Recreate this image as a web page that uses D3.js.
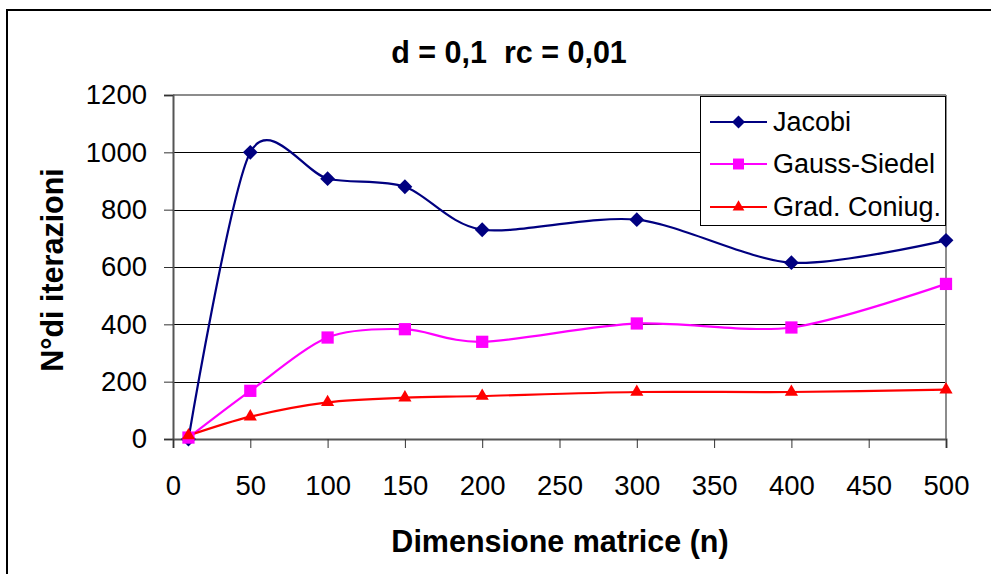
<!DOCTYPE html>
<html>
<head>
<meta charset="utf-8">
<script src="https://cdn.jsdelivr.net/npm/d3@7"></script>
<style>
  html, body { margin: 0; padding: 0; background: #fff; }
  svg { display: block; }
  text { font-family: "Liberation Sans", Arial, sans-serif; }
</style>
</head>
<body>
<svg id="chart" width="991" height="574"></svg>
<script>
const xValues = [10, 50, 100, 150, 200, 300, 400, 500];
const jacobi = [0, 1000, 908, 880, 730, 765, 615, 693];
const gaussSiedel = [5, 168, 354, 383, 339, 403, 389, 541];
const gradConiug = [12, 78, 128, 144, 150, 164, 164, 172];
const seriesNames = ["Jacobi", "Gauss-Siedel", "Grad. Coniug."];
const xTicks = [0, 50, 100, 150, 200, 250, 300, 350, 400, 450, 500];
const yTicks = [0, 200, 400, 600, 800, 1000, 1200];
const titleText = "d = 0,1  rc = 0,01";
const xTitle = "Dimensione matrice (n)";
const yTitle = "N°di iterazioni";

const svg = d3.select("#chart");
const x = d3.scaleLinear().domain([0, 500]).range([173, 946]);
const y = d3.scaleLinear().domain([0, 1200]).range([439, 95]);

// outer border (extends beyond canvas at right/bottom)
svg.append("rect").attr("x", 7).attr("y", 10).attr("width", 1000).attr("height", 600)
  .attr("fill", "none").attr("stroke", "#000").attr("stroke-width", 2);

// gridlines
svg.append("g").selectAll("line").data(yTicks.filter(d => d > 0 && d < 1200)).join("line")
  .attr("x1", x(0)).attr("x2", x(500))
  .attr("y1", d => Math.round(y(d)) + 0.5).attr("y2", d => Math.round(y(d)) + 0.5)
  .attr("stroke", "#000").attr("stroke-width", 1);

// plot border top and right
svg.append("line").attr("x1", x(0)).attr("x2", x(500)).attr("y1", y(1200)).attr("y2", y(1200))
  .attr("stroke", "#8c8c8c").attr("stroke-width", 2);
svg.append("line").attr("x1", x(500)).attr("x2", x(500)).attr("y1", y(1200)).attr("y2", y(0))
  .attr("stroke", "#8c8c8c").attr("stroke-width", 2);

// axes
const yAxis = d3.axisLeft(y).tickValues(yTicks).tickSize(9).tickPadding(17).tickFormat(d3.format("d"));
const gy = svg.append("g").attr("transform", `translate(${x(0)},0)`).call(yAxis);
gy.select(".domain").attr("stroke", "#555").attr("stroke-width", 2);
gy.selectAll(".tick line").attr("stroke", "#333");
gy.selectAll("text").attr("font-size", 27.5).attr("fill", "#000")
  .attr("font-family", "'Liberation Sans', Arial, sans-serif");

const xAxis = d3.axisBottom(x).tickValues(xTicks).tickSize(9).tickPadding(27).tickFormat(d3.format("d"));
const gx = svg.append("g").attr("transform", `translate(0,${y(0)})`).call(xAxis);
gx.select(".domain").attr("stroke", "#555").attr("stroke-width", 2);
gx.selectAll(".tick line").attr("stroke", "#333");
gx.selectAll("text").attr("font-size", 27.5).attr("fill", "#000")
  .attr("font-family", "'Liberation Sans', Arial, sans-serif");

// series
const colors = ["#000080", "#ff00ff", "#ff0000"];
const seriesData = [jacobi, gaussSiedel, gradConiug];
const symbols = [
  d3.symbol().type(d3.symbolSquare).size(110),
  d3.symbol().type(d3.symbolSquare).size(150),
  d3.symbol().type(d3.symbolTriangle).size(75)
];
const rotations = [45, 0, 0];
const line = d3.line().x(d => x(d[0])).y(d => y(d[1])).curve(d3.curveCardinal.tension(0.15));

seriesData.forEach((vals, i) => {
  const pts = xValues.map((xv, j) => [xv, vals[j]]);
  svg.append("path").datum(pts).attr("d", line)
    .attr("fill", "none").attr("stroke", colors[i]).attr("stroke-width", 2.2);
});
seriesData.forEach((vals, i) => {
  const pts = xValues.map((xv, j) => [xv, vals[j]]);
  svg.append("g").selectAll("path").data(pts).join("path")
    .attr("d", symbols[i])
    .attr("transform", d => `translate(${x(d[0])},${y(d[1])}) rotate(${rotations[i]})`)
    .attr("fill", colors[i]);
});

// legend
const legendSymbols = [
  d3.symbol().type(d3.symbolSquare).size(85),
  d3.symbol().type(d3.symbolSquare).size(120),
  d3.symbol().type(d3.symbolTriangle).size(60)
];
const lg = svg.append("g");
lg.append("rect").attr("x", 700.5).attr("y", 96.5).attr("width", 245).attr("height", 129)
  .attr("fill", "#fff").attr("stroke", "#000").attr("stroke-width", 1);
const legendY = [122, 164, 207];
seriesNames.forEach((name, i) => {
  lg.append("line").attr("x1", 710).attr("x2", 767).attr("y1", legendY[i]).attr("y2", legendY[i])
    .attr("stroke", colors[i]).attr("stroke-width", 2.2);
  lg.append("path").attr("d", legendSymbols[i])
    .attr("transform", `translate(738.5,${legendY[i]}) rotate(${rotations[i]})`)
    .attr("fill", colors[i]);
  lg.append("text").attr("x", 773).attr("y", legendY[i]).attr("dy", "0.35em")
    .attr("font-size", 27).text(name);
});

// titles
svg.append("text").attr("x", 509).attr("y", 52).attr("dy", "0.35em")
  .attr("text-anchor", "middle").attr("font-size", 30.5).attr("font-weight", "bold")
  .style("white-space", "pre").text(titleText);
svg.append("text").attr("x", 560).attr("y", 541).attr("dy", "0.35em")
  .attr("text-anchor", "middle").attr("font-size", 30.5).attr("font-weight", "bold")
  .text(xTitle);
svg.append("text").attr("transform", "translate(52,270) rotate(-90)").attr("dy", "0.35em")
  .attr("text-anchor", "middle").attr("font-size", 30.5).attr("font-weight", "bold")
  .text(yTitle);
</script>
</body>
</html>
